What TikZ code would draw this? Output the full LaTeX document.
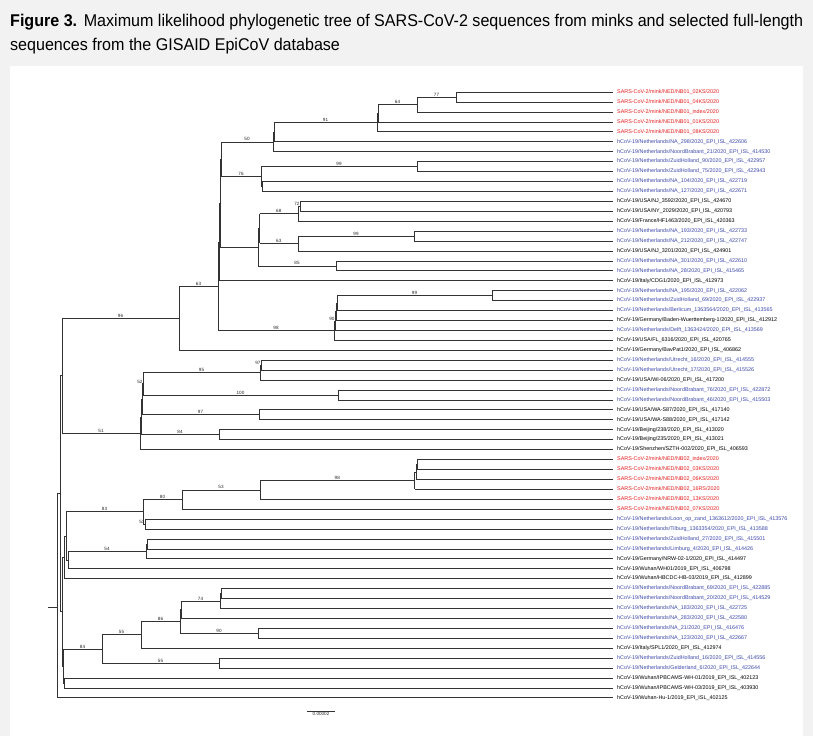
\documentclass[tikz,border=0pt]{standalone}
\usepackage{fontspec}
\setmainfont{Liberation Sans}
\usetikzlibrary{calc}
\definecolor{minkred}{RGB}{228,30,30}
\definecolor{nlblue}{RGB}{62,74,172}
\definecolor{bggray}{RGB}{242,242,242}
\definecolor{titlegray}{RGB}{50,50,50}
\tikzset{
  br/.style={draw=black!80, line width=0.55pt},
  lfl/.style={anchor=west, inner sep=0pt, font=\fontsize{5.4}{6}\selectfont, xshift=4pt},
  bsl/.style={anchor=south, inner sep=0.6pt, font=\fontsize{4.6}{5}\selectfont, text=black!85},
  bss/.style={anchor=south east, inner sep=0.4pt, font=\fontsize{4.6}{5}\selectfont, text=black!85},
}
\newcommand\tnode[4]{%
  \path let \p1=(#3), \p2=(#4) in (#2pt,{0.5*\y1+0.5*\y2}) coordinate (#1);
  \draw[br] (#3 -| #1) -- (#4 -| #1);
  \draw[br] (#3 -| #1) -- (#3);
  \draw[br] (#4 -| #1) -- (#4);
}
\newcommand\leafnode[3]{%
  \coordinate (l#1) at (613pt,{-(92+(#1-1)*9.93)*1pt});
  \node[lfl,text=#2] (t#1) at (l#1) {#3};
}
\newcommand\bsv[3]{\node[bsl] (b#1) at ($(#1 -| #2)!0.5!(#1)$) {#3};}
\newcommand\bsq[2]{\node[bss] (s#1) at (#1) {#2};}
\newsavebox\tlineA
\newsavebox\tlineB
\newlength\tlen
\begin{document}
\sbox\tlineA{\fontsize{17}{20}\selectfont\textbf{Figure 3.}\hspace{7pt}Maximum likelihood phylogenetic tree of SARS-CoV-2 sequences from minks and selected full-length}%
\sbox\tlineB{\fontsize{17}{20}\selectfont sequences from the GISAID EpiCoV database}%
\setlength\tlen{\wd\tlineA}%
\pgfmathsetmacro\tfac{793pt/\tlen}%
\begin{tikzpicture}
\useasboundingbox (0,0) rectangle (813pt,-736pt);
\fill[bggray] (0,0) rectangle (813pt,-736pt);
\fill[white] (10pt,-66pt) rectangle (803pt,-736pt);
% title
\node[anchor=base west, inner sep=0pt, text=titlegray] (title1) at (10pt,-27pt) {\scalebox{\tfac}[1]{\usebox\tlineA}};
\node[anchor=base west, inner sep=0pt, text=titlegray] (title2) at (10pt,-50pt) {\scalebox{\tfac}[1]{\usebox\tlineB}};
% leaves
\leafnode{1}{minkred}{SARS-CoV-2/mink/NED/NB01\_02KS/2020}
\leafnode{2}{minkred}{SARS-CoV-2/mink/NED/NB01\_04KS/2020}
\leafnode{3}{minkred}{SARS-CoV-2/mink/NED/NB01\_index/2020}
\leafnode{4}{minkred}{SARS-CoV-2/mink/NED/NB01\_01KS/2020}
\leafnode{5}{minkred}{SARS-CoV-2/mink/NED/NB01\_08KS/2020}
\leafnode{6}{nlblue}{hCoV-19/Netherlands/NA\_298/2020\_EPI\_ISL\_422606}
\leafnode{7}{nlblue}{hCoV-19/Netherlands/NoordBrabant\_21/2020\_EPI\_ISL\_414530}
\leafnode{8}{nlblue}{hCoV-19/Netherlands/ZuidHolland\_90/2020\_EPI\_ISL\_422957}
\leafnode{9}{nlblue}{hCoV-19/Netherlands/ZuidHolland\_75/2020\_EPI\_ISL\_422943}
\leafnode{10}{nlblue}{hCoV-19/Netherlands/NA\_104/2020\_EPI\_ISL\_422719}
\leafnode{11}{nlblue}{hCoV-19/Netherlands/NA\_127/2020\_EPI\_ISL\_422671}
\leafnode{12}{black}{hCoV-19/USA/NJ\_3592/2020\_EPI\_ISL\_424670}
\leafnode{13}{black}{hCoV-19/USA/NY\_2029/2020\_EPI\_ISL\_420793}
\leafnode{14}{black}{hCoV-19/France/HF1463/2020\_EPI\_ISL\_420363}
\leafnode{15}{nlblue}{hCoV-19/Netherlands/NA\_193/2020\_EPI\_ISL\_422733}
\leafnode{16}{nlblue}{hCoV-19/Netherlands/NA\_212/2020\_EPI\_ISL\_422747}
\leafnode{17}{black}{hCoV-19/USA/NJ\_3201/2020\_EPI\_ISL\_424901}
\leafnode{18}{nlblue}{hCoV-19/Netherlands/NA\_301/2020\_EPI\_ISL\_422610}
\leafnode{19}{nlblue}{hCoV-19/Netherlands/NA\_28/2020\_EPI\_ISL\_415465}
\leafnode{20}{black}{hCoV-19/Italy/CDG1/2020\_EPI\_ISL\_412973}
\leafnode{21}{nlblue}{hCoV-19/Netherlands/NA\_195/2020\_EPI\_ISL\_422062}
\leafnode{22}{nlblue}{hCoV-19/Netherlands/ZuidHolland\_69/2020\_EPI\_ISL\_422937}
\leafnode{23}{nlblue}{hCoV-19/Netherlands/Berlicum\_1363564/2020\_EPI\_ISL\_413565}
\leafnode{24}{black}{hCoV-19/Germany/Baden-Wuerttemberg-1/2020\_EPI\_ISL\_412912}
\leafnode{25}{nlblue}{hCoV-19/Netherlands/Delft\_1363424/2020\_EPI\_ISL\_413569}
\leafnode{26}{black}{hCoV-19/USA/FL\_6316/2020\_EPI\_ISL\_420765}
\leafnode{27}{black}{hCoV-19/Germany/BavPat1/2020\_EPI\_ISL\_406862}
\leafnode{28}{nlblue}{hCoV-19/Netherlands/Utrecht\_16/2020\_EPI\_ISL\_414555}
\leafnode{29}{nlblue}{hCoV-19/Netherlands/Utrecht\_17/2020\_EPI\_ISL\_415526}
\leafnode{30}{black}{hCoV-19/USA/WI-06/2020\_EPI\_ISL\_417200}
\leafnode{31}{nlblue}{hCoV-19/Netherlands/NoordBrabant\_76/2020\_EPI\_ISL\_422872}
\leafnode{32}{nlblue}{hCoV-19/Netherlands/NoordBrabant\_46/2020\_EPI\_ISL\_415503}
\leafnode{33}{black}{hCoV-19/USA/WA-S87/2020\_EPI\_ISL\_417140}
\leafnode{34}{black}{hCoV-19/USA/WA-S88/2020\_EPI\_ISL\_417142}
\leafnode{35}{black}{hCoV-19/Beijing/238/2020\_EPI\_ISL\_413020}
\leafnode{36}{black}{hCoV-19/Beijing/235/2020\_EPI\_ISL\_413021}
\leafnode{37}{black}{hCoV-19/Shenzhen/SZTH-002/2020\_EPI\_ISL\_406593}
\leafnode{38}{minkred}{SARS-CoV-2/mink/NED/NB02\_index/2020}
\leafnode{39}{minkred}{SARS-CoV-2/mink/NED/NB02\_03KS/2020}
\leafnode{40}{minkred}{SARS-CoV-2/mink/NED/NB02\_06KS/2020}
\leafnode{41}{minkred}{SARS-CoV-2/mink/NED/NB02\_16RS/2020}
\leafnode{42}{minkred}{SARS-CoV-2/mink/NED/NB02\_13KS/2020}
\leafnode{43}{minkred}{SARS-CoV-2/mink/NED/NB02\_07KS/2020}
\leafnode{44}{nlblue}{hCoV-19/Netherlands/Loon\_op\_zand\_1363612/2020\_EPI\_ISL\_413576}
\leafnode{45}{nlblue}{hCoV-19/Netherlands/Tilburg\_1363354/2020\_EPI\_ISL\_413588}
\leafnode{46}{nlblue}{hCoV-19/Netherlands/ZuidHolland\_27/2020\_EPI\_ISL\_415501}
\leafnode{47}{nlblue}{hCoV-19/Netherlands/Limburg\_4/2020\_EPI\_ISL\_414426}
\leafnode{48}{black}{hCoV-19/Germany/NRW-02-1/2020\_EPI\_ISL\_414497}
\leafnode{49}{black}{hCoV-19/Wuhan/WH01/2019\_EPI\_ISL\_406798}
\leafnode{50}{black}{hCoV-19/Wuhan/HBCDC-HB-03/2019\_EPI\_ISL\_412899}
\leafnode{51}{nlblue}{hCoV-19/Netherlands/NoordBrabant\_69/2020\_EPI\_ISL\_422885}
\leafnode{52}{nlblue}{hCoV-19/Netherlands/NoordBrabant\_20/2020\_EPI\_ISL\_414529}
\leafnode{53}{nlblue}{hCoV-19/Netherlands/NA\_183/2020\_EPI\_ISL\_422725}
\leafnode{54}{nlblue}{hCoV-19/Netherlands/NA\_283/2020\_EPI\_ISL\_422580}
\leafnode{55}{nlblue}{hCoV-19/Netherlands/NA\_21/2020\_EPI\_ISL\_416476}
\leafnode{56}{nlblue}{hCoV-19/Netherlands/NA\_123/2020\_EPI\_ISL\_422667}
\leafnode{57}{black}{hCoV-19/Italy/SPL1/2020\_EPI\_ISL\_412974}
\leafnode{58}{nlblue}{hCoV-19/Netherlands/ZuidHolland\_16/2020\_EPI\_ISL\_414556}
\leafnode{59}{nlblue}{hCoV-19/Netherlands/Gelderland\_6/2020\_EPI\_ISL\_422644}
\leafnode{60}{black}{hCoV-19/Wuhan/IPBCAMS-WH-01/2019\_EPI\_ISL\_402123}
\leafnode{61}{black}{hCoV-19/Wuhan/IPBCAMS-WH-03/2019\_EPI\_ISL\_403930}
\leafnode{62}{black}{hCoV-19/Wuhan-Hu-1/2019\_EPI\_ISL\_402125}
% upper clade
\tnode{A}{456}{l1}{l2}
\tnode{B}{417}{A}{l3}
\tnode{C1}{378}{B}{l4}
\tnode{C}{377}{C1}{l5}
\tnode{D1}{274}{C}{l6}
\tnode{D}{273}{D1}{l7}
\tnode{F}{417}{l8}{l9}
\tnode{G2}{262}{l10}{l11}
\tnode{G}{261}{F}{G2}
\tnode{E1}{221}{D}{G}
\tnode{I2}{300}{l12}{l13}
\tnode{I}{298}{I2}{l14}
\tnode{L}{414}{l15}{l16}
\tnode{J}{298}{L}{l17}
\tnode{K}{336}{l18}{l19}
\tnode{H1}{259.5}{I}{J}
\tnode{H}{258}{H1}{K}
\tnode{E2}{220}{E1}{H}
\tnode{E}{219}{E2}{l20}
\tnode{X}{492}{l21}{l22}
\tnode{V3}{337}{X}{l23}
\tnode{V2}{336}{V3}{l24}
\tnode{V1}{335}{V2}{l25}
\tnode{V}{334}{V1}{l26}
\tnode{M}{218}{E}{V}
\tnode{T96}{179}{M}{l27}
\tnode{N2}{261}{l28}{l29}
\tnode{N}{260}{N2}{l30}
\tnode{O}{338}{l31}{l32}
\tnode{P}{259}{l33}{l34}
\tnode{Q}{219}{l35}{l36}
\tnode{R1}{143}{N}{O}
\tnode{R2}{142}{R1}{P}
\tnode{R3}{141}{R2}{Q}
\tnode{R}{140}{R3}{l37}
\tnode{U}{62}{T96}{R}
% lower clade
\tnode{T1}{417}{l38}{l39}
\tnode{T2}{416}{T1}{l40}
\tnode{T}{414.5}{T2}{l41}
\tnode{S}{260}{T}{l42}
\tnode{Q80}{182}{S}{l43}
\tnode{R53}{145}{l44}{l45}
\tnode{Z83}{143}{Q80}{R53}
\tnode{Y1}{147}{l46}{l47}
\tnode{Y}{146}{Y1}{l48}
\tnode{W1}{68}{Y}{l49}
\tnode{W2}{66}{Z83}{W1}
\tnode{W3}{64}{W2}{l50}
\tnode{AA1}{221}{l51}{l52}
\tnode{AA}{220}{AA1}{l53}
\tnode{CC1}{181}{AA}{l54}
\tnode{BB}{258}{l55}{l56}
\tnode{CC}{180}{CC1}{BB}
\tnode{DD}{141}{CC}{l57}
\tnode{EE}{219}{l58}{l59}
\tnode{FF}{102}{DD}{EE}
\tnode{GG1}{64}{l60}{l61}
\tnode{GG}{63}{FF}{GG1}
\tnode{HH}{62}{W3}{GG}
\tnode{II}{60}{U}{HH}
% root
\coordinate (root) at (57pt,-607pt);
\coordinate (rootstub) at (48pt,-607pt);
\draw[br] (II -| root) -- (l62 -| root);
\draw[br] (II -| root) -- (II);
\draw[br] (l62 -| root) -- (l62);
\draw[br] (rootstub) -- (root);
% bootstrap values
\bsv{A}{B}{77}
\bsv{B}{C1}{64}
\bsv{C}{D1}{91}
\bsv{D}{E1}{50}
\bsv{F}{G}{99}
\bsv{G}{E1}{76}
\bsv{I}{H1}{68}
\bsv{L}{J}{99}
\bsv{J}{H1}{63}
\bsv{K}{H}{85}
\bsv{M}{T96}{63}
\bsv{X}{V3}{99}
\bsv{V}{M}{98}
\bsv{T96}{U}{96}
\bsv{N}{R1}{95}
\bsv{O}{R1}{100}
\bsv{P}{R2}{97}
\bsv{Q}{R3}{84}
\bsv{R}{U}{51}
\bsv{T}{S}{98}
\bsv{S}{Q80}{53}
\bsv{Q80}{Z83}{80}
\bsv{Z83}{W2}{83}
\bsv{Y}{W1}{54}
\bsv{AA}{CC1}{74}
\bsv{CC}{DD}{86}
\bsv{BB}{CC}{90}
\bsv{DD}{FF}{55}
\bsv{EE}{FF}{55}
\bsv{FF}{GG}{84}
\bsq{I2}{72}
\bsq{R1}{52}
\bsq{R53}{53}
\bsq{N2}{97}
\bsq{V1}{90}
% scale bar
\coordinate (sbl) at (307pt,-711pt);
\coordinate (sbr) at (335pt,-711pt);
\draw[br] (sbl) -- (sbr);
\node[anchor=north, inner sep=1pt, font=\fontsize{4.6}{5}\selectfont, text=black!85] (sblab) at ($(sbl)!0.5!(sbr)$) {0.00002};
\end{tikzpicture}
\end{document}
